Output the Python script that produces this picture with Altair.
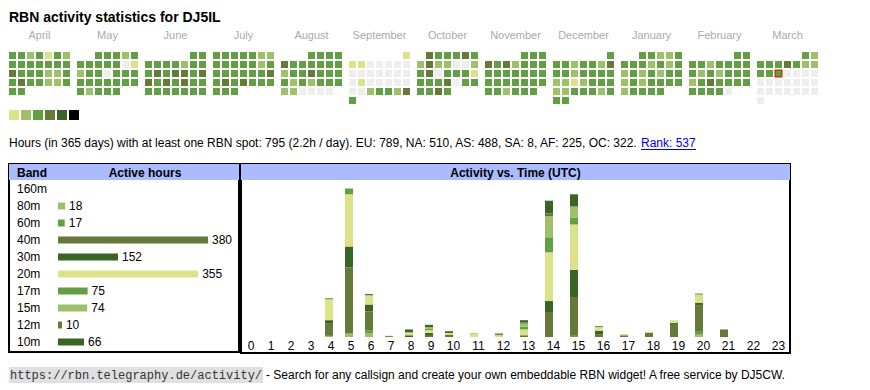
import datetime as dt
import altair as alt
import pandas as pd

FONT = "Liberation Sans"
MONO = "Liberation Mono"
HEADER_BLUE = "#aabbff"

title_text = "RBN activity statistics for DJ5IL"

# ---- calendar: one character per day (0 = no spot, 1..5 = activity level), weeks split by spaces
month_names = ["April", "May", "June", "July", "August", "September",
               "October", "November", "December", "January", "February", "March"]
month_starts = ["2024-04-01", "2024-05-01", "2024-06-01", "2024-07-01", "2024-08-01", "2024-09-01",
                "2024-10-01", "2024-11-01", "2024-12-01", "2025-01-01", "2025-02-01", "2025-03-01"]
month_weeks = [
    "3323132 3333333 4333223 3433223 33",
    "33323 3333301 2330333 3333333 32333",
    "33 3333233 3434434 4343433 3333333",
    "3333322 3333323 3333334 3434333 333",
    "3333 4333333 2334333 3232333 220000",
    "1 1100000 0000000 0100000 0023324 3",
    "433343 2422002 3403331 3334033 3343",
    "333 4342333 3333333 3333333 332333",
    "3 3323324 3323333 2212333 2233323 33",
    "33223 3332323 2323233 2323333 23333",
    "33 3323333 3232333 2343333 33330",
    "32 3334322 3330000 0000000 0000000 0",
]
today = "2025-03-12"
level_colors = ["#eeeeee", "#dce28a", "#9dc068", "#629e44", "#64793a", "#3a6526", "#000000"]
legend_levels = [1, 2, 3, 4, 5, 6]

summary_text = ("Hours (in 365 days) with at least one RBN spot: 795 (2.2h / day). "
                "EU: 789, NA: 510, AS: 488, SA: 8, AF: 225, OC: 322.")
rank_text = "Rank: 537"
footer_url = "https://rbn.telegraphy.de/activity/"
footer_text = "- Search for any callsign and create your own embeddable RBN widget! A free service by DJ5CW."

# ---- bands
band_names = ["160m", "80m", "60m", "40m", "30m", "20m", "17m", "15m", "12m", "10m"]
band_hours = [None, 18, 17, 380, 152, 355, 75, 74, 10, 66]
band_colors = ["#dce28a", "#9dc068", "#629e44", "#64793a", "#3a6526",
               "#dce28a", "#629e44", "#9dc068", "#64793a", "#3a6526"]

# ---- activity vs time (hours per UTC hour, per band)
hour_labels = [str(h) for h in range(24)]
hourly = {
    "160m": [0] * 24,
    "80m": [0, 0, 0, 0, 2, 6, 6, 0, 0, 0, 0, 0, 0, 0, 0, 0, 0, 0, 0, 0, 4, 0, 0, 0],
    "60m": [0, 0, 0, 0, 0, 0, 5, 2, 0, 0, 0, 0, 0, 0, 0, 2, 0, 0, 0, 0, 5, 0, 0, 0],
    "40m": [0, 0, 0, 0, 22, 114, 33, 0, 0, 2, 2, 0, 0, 3, 43, 67, 5, 2, 7, 21, 45, 13, 0, 0],
    "30m": [0, 0, 0, 0, 5, 36, 12, 0, 3, 5, 2, 0, 0, 0, 19, 47, 6, 1, 0, 3, 5, 0, 0, 0],
    "20m": [0, 0, 0, 0, 36, 90, 16, 0, 5, 5, 3, 5, 3, 10, 84, 78, 6, 2, 2, 5, 14, 0, 0, 0],
    "17m": [0, 0, 0, 0, 2, 10, 0, 0, 0, 2, 0, 1, 1, 5, 26, 12, 2, 0, 0, 0, 2, 0, 0, 0],
    "15m": [0, 0, 0, 0, 0, 0, 0, 0, 0, 3, 0, 0, 0, 5, 36, 19, 0, 0, 0, 0, 0, 0, 0, 0],
    "12m": [0, 0, 0, 0, 0, 0, 0, 0, 0, 0, 0, 0, 0, 2, 5, 0, 0, 0, 0, 0, 0, 0, 0, 0],
    "10m": [0, 0, 0, 0, 0, 0, 2, 0, 5, 4, 3, 0, 2, 4, 22, 21, 0, 0, 0, 0, 0, 0, 0, 0],
}

# ================= build data frames =================
cal_rows = []
for name, start, weeks in zip(month_names, month_starts, month_weeks):
    first = dt.date.fromisoformat(start)
    day = 0
    for w, chunk in enumerate(weeks.split()):
        for ch in chunk:
            d = first + dt.timedelta(days=day)
            cal_rows.append({"month": name, "dow": d.weekday(), "week": w,
                             "level": int(ch), "today": d.isoformat() == today})
            day += 1
cal_df = pd.DataFrame(cal_rows)

level_scale = alt.Scale(domain=list(range(len(level_colors))), range=level_colors)
band_scale = alt.Scale(domain=band_names, range=band_colors)

# hour table columns: width grows with label length (like an auto-sized html table)
hour_rows, act_rows = [], []
pos = 0
for h, lab in enumerate(hour_labels):
    w = 15 + 5 * len(lab)
    hour_rows.append({"label": lab, "center": pos + w / 2})
    for bi, b in enumerate(band_names):
        v = hourly[b][h]
        if v > 0:
            act_rows.append({"hour": h, "band": b, "order": bi, "hours": v,
                             "x0": pos + 4, "x1": pos + 12})
    pos += w
hour_df = pd.DataFrame(hour_rows)
act_df = pd.DataFrame(act_rows)
table_width = pos

band_df = pd.DataFrame({"band": band_names, "hours": band_hours})
one = pd.DataFrame({"k": [0]})

# ================= title =================
title_chart = alt.Chart(pd.DataFrame({"t": [title_text]})).mark_text(
    align="left", baseline="alphabetic", font=FONT, fontSize=14, fontWeight="bold", color="black"
).encode(x=alt.value(0), y=alt.value(13), text="t:N").properties(width=800, height=20)

# ================= calendar =================
xs_dow = alt.X("dow:O", scale=alt.Scale(domain=list(range(7)), paddingInner=2 / 9, paddingOuter=0), axis=None)
ys_week = alt.Y("week:O", scale=alt.Scale(domain=list(range(6)), paddingInner=2 / 9, paddingOuter=0), axis=None)
cells = alt.Chart().mark_rect().encode(
    x=xs_dow, y=ys_week, color=alt.Color("level:O", scale=level_scale, legend=None))
today_mark = alt.Chart().transform_filter("datum.today").mark_rect(
    fillOpacity=0, stroke="#ee0000", strokeWidth=1).encode(x=xs_dow, y=ys_week)
calendar = alt.layer(cells, today_mark, data=cal_df).properties(width=61, height=52).facet(
    column=alt.Column("month:N", sort=month_names,
                      header=alt.Header(title=None, labelFont=FONT, labelFontSize=11,
                                        labelColor="#aaaaaa", labelPadding=10)),
    spacing=5)

# ================= legend =================
legend_chart = alt.Chart(pd.DataFrame({"level": legend_levels})).mark_rect().encode(
    x=alt.X("level:O", scale=alt.Scale(paddingInner=2 / 12, paddingOuter=0), axis=None),
    y=alt.value(4), y2=alt.value(14),
    color=alt.Color("level:O", scale=level_scale, legend=None),
).properties(width=70, height=18)

# ================= summary line =================
link_x = 632
desc_main = alt.Chart(pd.DataFrame({"t": [summary_text]})).mark_text(
    align="left", baseline="alphabetic", font=FONT, fontSize=12, color="black"
).encode(x=alt.value(0), y=alt.value(21), text="t:N")
desc_link = alt.Chart(pd.DataFrame({"t": [rank_text]})).mark_text(
    align="left", baseline="alphabetic", font=FONT, fontSize=12, color="#0000ee"
).encode(x=alt.value(link_x), y=alt.value(21), text="t:N")
desc_under = alt.Chart(one).mark_rule(color="#0000ee", strokeWidth=1).encode(
    x=alt.value(link_x), x2=alt.value(link_x + 55), y=alt.value(23.5))
desc_chart = alt.layer(desc_main, desc_link, desc_under).properties(width=800, height=36)

# ================= band table panel =================
LW, LH = 230, 188
y_band = alt.Y("band:N", sort=band_names,
               scale=alt.Scale(type="point", domain=band_names, range=[25, 178], padding=0), axis=None)
x_hours = alt.X("hours:Q", scale=alt.Scale(domain=[0, 380], range=[49, 199]), axis=None)
l_head = alt.Chart(one).mark_rect(color=HEADER_BLUE).encode(
    x=alt.value(0), x2=alt.value(LW), y=alt.value(0), y2=alt.value(16))
l_head_band = alt.Chart(pd.DataFrame({"t": ["Band"]})).mark_text(
    align="left", baseline="middle", font=FONT, fontSize=12, fontWeight="bold", color="black"
).encode(x=alt.value(8), y=alt.value(9), text="t:N")
l_head_hours = alt.Chart(pd.DataFrame({"t": ["Active hours"]})).mark_text(
    align="center", baseline="middle", font=FONT, fontSize=12, fontWeight="bold", color="black"
).encode(x=alt.value(136), y=alt.value(9), text="t:N")
l_names = alt.Chart(band_df).mark_text(
    align="left", baseline="middle", font=FONT, fontSize=12, color="black"
).encode(x=alt.value(8), y=y_band, text="band:N")
l_bars = alt.Chart(band_df).transform_filter("datum.hours > 0").mark_bar(size=7).encode(
    x=x_hours, y=y_band, color=alt.Color("band:N", scale=band_scale, legend=None))
l_vals = alt.Chart(band_df).transform_filter("datum.hours > 0").mark_text(
    align="left", baseline="middle", dx=4, font=FONT, fontSize=12, color="black"
).encode(x=x_hours, y=y_band, text=alt.Text("hours:Q", format="d"))
left_panel = alt.layer(l_head, l_head_band, l_head_hours, l_names, l_bars, l_vals).properties(
    width=LW, height=LH, view=alt.ViewBackground(stroke="black", strokeWidth=2))

# ================= activity vs time panel =================
RW, RH = 549, 189
x_cols = alt.Scale(domain=[0, table_width], range=[0, table_width])
r_head = alt.Chart(one).mark_rect(color=HEADER_BLUE).encode(
    x=alt.value(0), x2=alt.value(RW), y=alt.value(0), y2=alt.value(16))
r_head_text = alt.Chart(pd.DataFrame({"t": ["Activity vs. Time (UTC)"]})).mark_text(
    align="center", baseline="middle", font=FONT, fontSize=12, fontWeight="bold", color="black"
).encode(x=alt.value(RW / 2), y=alt.value(9), text="t:N")
r_bars = alt.Chart(act_df).transform_stack(
    stack="hours", groupby=["hour"], sort=[alt.SortField("order", order="ascending")], as_=["y0", "y1"]
).mark_rect().encode(
    x=alt.X("x0:Q", scale=x_cols, axis=None), x2="x1:Q",
    y=alt.Y("y0:Q", scale=alt.Scale(domain=[0, 300], range=[173, -1]), axis=None), y2="y1:Q",
    color=alt.Color("band:N", scale=band_scale, legend=None))
r_labels = alt.Chart(hour_df).mark_text(
    align="center", baseline="middle", font=FONT, fontSize=12, color="black"
).encode(x=alt.X("center:Q", scale=x_cols, axis=None), y=alt.value(182), text="label:N")
right_panel = alt.layer(r_head, r_head_text, r_bars, r_labels).properties(
    width=RW, height=RH, view=alt.ViewBackground(stroke="black", strokeWidth=2))

panels = alt.hconcat(left_panel, right_panel, spacing=0)

# ================= footer =================
f_bg = alt.Chart(one).mark_rect(color="#e0e0e0").encode(
    x=alt.value(0), x2=alt.value(254), y=alt.value(12), y2=alt.value(28))
f_url = alt.Chart(pd.DataFrame({"t": [footer_url]})).mark_text(
    align="left", baseline="alphabetic", font=MONO, fontSize=12, color="#333333"
).encode(x=alt.value(1), y=alt.value(24), text="t:N")
f_text = alt.Chart(pd.DataFrame({"t": [footer_text]})).mark_text(
    align="left", baseline="alphabetic", font=FONT, fontSize=12, color="black"
).encode(x=alt.value(257), y=alt.value(24), text="t:N")
footer = alt.layer(f_bg, f_url, f_text).properties(width=800, height=28)

chart = alt.vconcat(title_chart, calendar, legend_chart, desc_chart, panels, footer, spacing=0).resolve_scale(
    color="independent").properties(padding=0).configure_view(stroke="transparent")

chart.save("out.html", embed_options={"renderer": "svg", "actions": False})
